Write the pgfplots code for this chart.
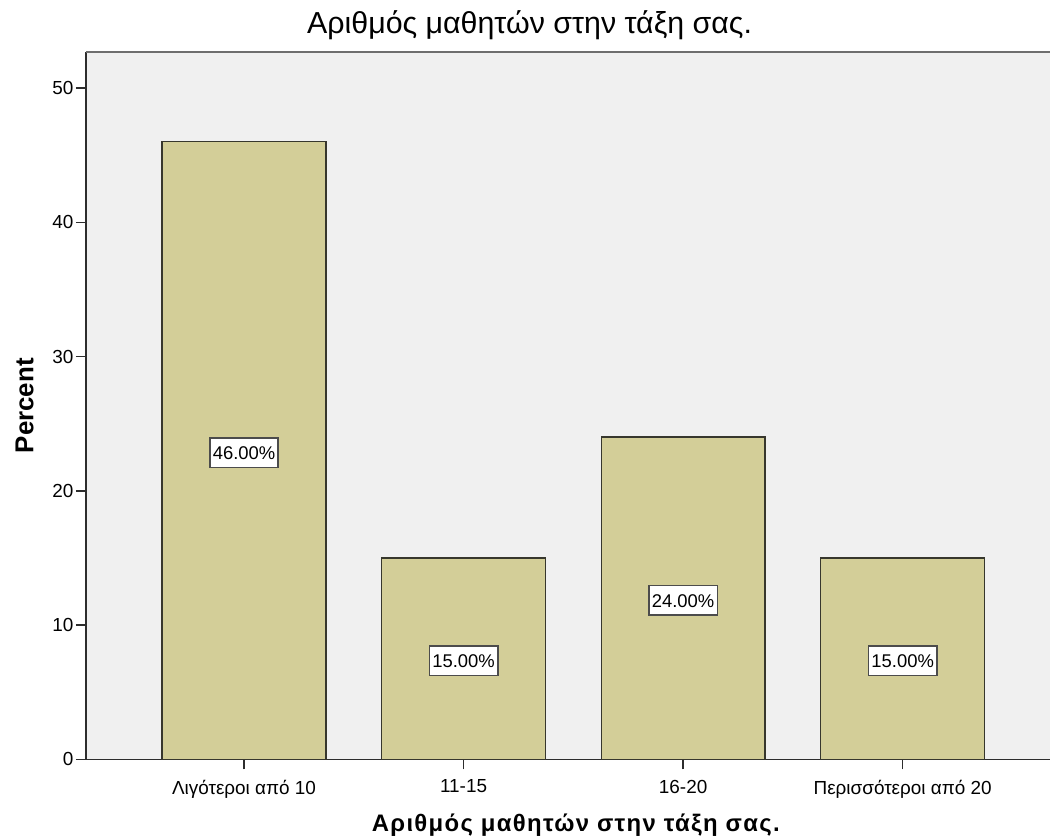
\documentclass[border=0pt]{standalone}
\usepackage{pgfplots}
\pgfplotsset{compat=1.18}
\usepackage{fontspec}
\setmainfont{Liberation Sans}
\newfontfamily\xlabelfont[LetterSpace=5.5]{Liberation Sans}

\definecolor{barfill}{RGB}{211,206,152}
\definecolor{barline}{RGB}{55,55,45}
\definecolor{plotbg}{RGB}{240,240,240}
\definecolor{frametop}{RGB}{110,110,110}
\definecolor{axisline}{RGB}{45,45,45}

\begin{document}
\begin{tikzpicture}
\begin{axis}[
  scale only axis, width=965bp, height=708bp,
  xmin=-0.720, xmax=3.672, ymin=0, ymax=52.68,
  axis x line*=bottom, axis y line*=left,
  axis line style={line width=1.6bp, axisline},
  axis background/.style={fill=plotbg},
  xtick={0,1,2,3},
  xticklabels={Λιγότεροι από 10, 11-15, 16-20, Περισσότεροι από 20},
  ytick={0,10,20,30,40,50},
  tick align=outside, major tick length=10bp,
  tick style={line width=1.4bp, axisline},
  ticklabel style={font=\fontsize{19}{22}\selectfont},
  xticklabel style={yshift=-7bp},
  yticklabel style={xshift=1bp},
  /pgf/number format/assume math mode=true,
  title={Αριθμός μαθητών στην τάξη σας.},
  title style={font=\fontsize{30.5}{33}\selectfont,
    at={(axis description cs:0.4601,1.01695)}, anchor=base},
  xlabel={Αριθμός μαθητών στην τάξη σας.},
  xlabel style={font=\xlabelfont\bfseries\fontsize{24}{27}\selectfont,
    at={(axis description cs:0.508,-0.1017)}, anchor=base},
  ylabel={Percent},
  ylabel style={font=\bfseries\fontsize{26}{28}\selectfont,
    at={(axis description cs:-0.0637,0.5)}, anchor=center},
  ybar, bar width=0.746,
  visualization depends on={rawy \as \rawy},
  nodes near coords={\pgfmathprintnumber[fixed,fixed zerofill,precision=2]{\pgfplotspointmeta}\%},
  every node near coord/.append style={
    anchor=center, shift={(axis direction cs:0,-\rawy/2)}, yshift=-2bp,
    fill=white, draw=black!70, line width=1.5bp,
    inner xsep=3bp, inner ysep=8bp, text height=13.5bp, text depth=0bp,
    font=\fontsize{18.5}{21}\selectfont,
    /pgf/number format/assume math mode=true},
]
\addplot[fill=barfill, draw=barline, line width=1.3bp]
  coordinates {(0,46) (1,15) (2,24) (3,15)};
\draw[frametop, line width=2bp] (rel axis cs:0,1) -- (rel axis cs:1,1);
\end{axis}
\path ([shift={(-86bp,-78bp)}]current axis.south west)
  rectangle ([shift={(0bp,52bp)}]current axis.north east);
\end{tikzpicture}
\end{document}
